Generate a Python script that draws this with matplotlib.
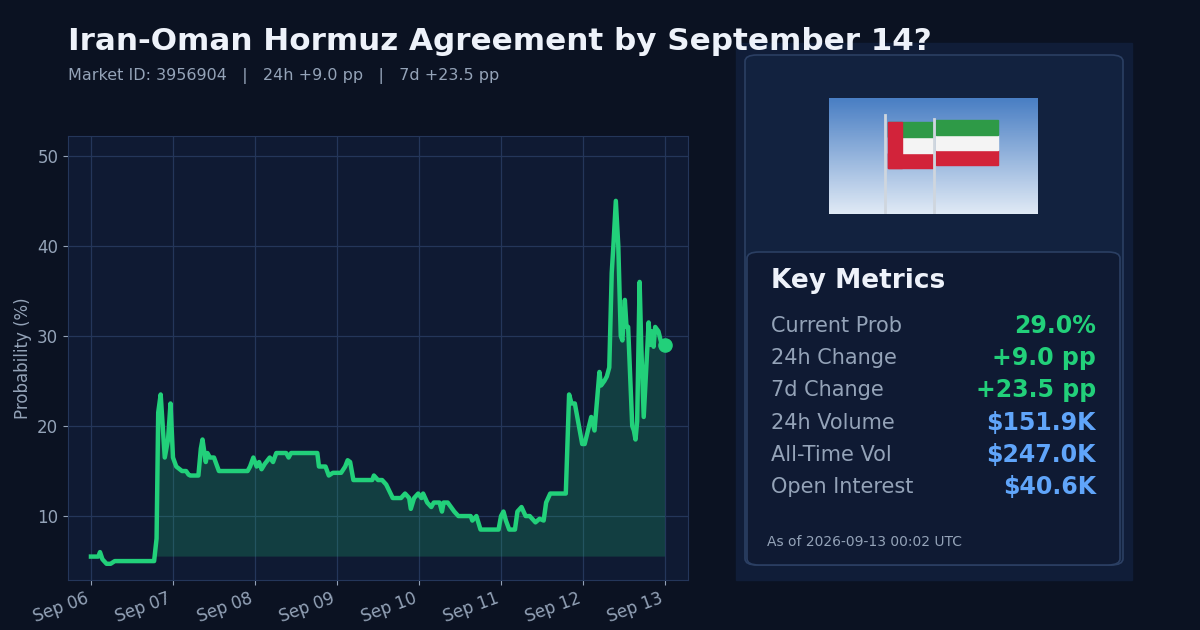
import matplotlib
matplotlib.use("Agg")
import matplotlib.pyplot as plt
import matplotlib.dates as mdates
from matplotlib.patches import FancyBboxPatch, Rectangle
import numpy as np
import datetime as dt

days = [0.0,0.09,0.11,0.14,0.19,0.24,0.29,0.77,0.8,0.82,0.85,0.89,0.9,0.94,0.97,1.0,1.04,1.11,1.16,1.19,1.21,1.31,1.34,1.36,1.4,1.42,1.45,1.5,1.56,1.61,1.91,
        1.94,1.98,2.02,2.05,2.08,2.12,2.18,2.22,2.26,2.38,2.41,2.44,2.76,2.78,2.86,2.9,2.95,3.05,3.1,3.13,3.16,3.2,3.43,3.45,3.5,3.55,3.6,3.68,3.78,3.83,3.88,3.9,3.94,3.99,4.03,4.05,4.1,4.15,4.18,4.25,4.28,4.3,4.35,4.43,4.48,4.63,4.65,4.7,4.75,
        4.97,5.0,5.03,5.06,5.1,5.17,5.2,5.25,5.3,5.35,5.42,5.47,5.52,5.55,5.6,5.79,5.83,5.86,5.9,5.93,5.96,5.99,6.02,6.06,6.1,6.14,6.2,6.22,6.26,6.29,6.32,6.35,6.37,6.4,6.43,6.46,6.48,6.51,6.53,6.55,6.6,6.62,6.64,6.66,6.69,6.71,6.74,6.8,6.82,6.84,6.86,6.88,6.92,6.96,7.0]
prob = [5.5,5.5,6.0,5.2,4.7,4.7,5.0,5.0,7.5,21.5,23.5,18.0,16.5,18.5,22.5,16.5,15.5,15.0,15.0,14.6,14.5,14.5,17.5,18.5,16.0,17.0,16.5,16.5,15.0,15.0,15.0,
        15.5,16.5,15.5,16.0,15.2,15.8,16.5,16.0,17.0,17.0,16.5,17.0,17.0,15.5,15.5,14.5,14.8,14.8,15.5,16.2,16.0,14.0,14.0,14.5,14.0,14.0,13.5,12.0,12.0,12.5,12.0,10.8,12.0,12.5,12.0,12.5,11.5,11.0,11.5,11.5,10.5,11.5,11.5,10.5,10.0,10.0,9.5,10.0,8.5,
        8.5,10.0,10.5,9.5,8.5,8.5,10.5,11.0,10.0,10.0,9.3,9.7,9.5,11.5,12.5,12.5,23.5,22.5,22.5,21.0,19.5,18.0,18.0,19.5,21.0,19.5,26.0,24.5,25.0,25.5,26.5,37.0,40.0,45.0,40.0,30.0,29.5,34.0,31.0,31.0,20.0,19.5,18.5,20.5,36.0,29.0,21.0,31.5,29.0,30.5,28.8,31.0,30.5,29.0,29.0]

metric_labels = ["Current Prob","24h Change","7d Change","24h Volume","All-Time Vol","Open Interest"]
metric_values = ["29.0%","+9.0 pp","+23.5 pp","$151.9K","$247.0K","$40.6K"]
metric_colors = ["#22d07a"]*3 + ["#60a5fa"]*3

BG="#0b1222"; AX="#0f1a33"; GREEN="#22d07a"; GRID="#24365a"; GRAY="#94a3b8"; WHITE="#eef2fa"

t0 = dt.datetime(2026,9,6)
x = [t0 + dt.timedelta(days=d) for d in days]
y = np.array(prob)

fig = plt.figure(figsize=(12,6.3), dpi=100, facecolor=BG)
ax = fig.add_axes([68/1200, 1-580/630, (688-68)/1200, (580-136)/630])
ax.set_facecolor(AX)
ax.set_axisbelow(True)
ax.plot(x, y, color=GREEN, lw=3.2, zorder=3)
ax.fill_between(x, y, prob[0], where=y>=prob[0], color=GREEN, alpha=0.2, lw=0, zorder=2, interpolate=True)
ax.scatter([x[-1]], [y[-1]], s=90, color=GREEN, zorder=4)
ax.set_ylim(2.9, 52.2)
ax.set_xlim(t0 - dt.timedelta(days=0.28), t0 + dt.timedelta(days=7.28))
ax.set_yticks([10,20,30,40,50])
ax.xaxis.set_major_locator(mdates.DayLocator())
ax.xaxis.set_major_formatter(mdates.DateFormatter("%b %d"))
ax.grid(True, color=GRID, lw=0.9, zorder=0)
for s in ax.spines.values(): s.set_color(GRID)
ax.tick_params(colors=GRAY, labelsize=12)
plt.setp(ax.get_xticklabels(), rotation=20, ha="right")
ax.set_ylabel("Probability (%)", color=GRAY, fontsize=12)

fig.text(68/1200, 1-42/630, "Iran-Oman Hormuz Agreement by September 14?", color=WHITE, fontsize=22.3, fontweight="bold", va="center")
fig.text(68/1200, 1-76/630, "Market ID: 3956904   |   24h +9.0 pp   |   7d +23.5 pp", color=GRAY, fontsize=11.5, va="center")

def fx(px): return px/1200
def fy(py): return 1-py/630
fig.patches.append(Rectangle((fx(736), fy(580)), fx(1132-736), (580-43)/630, transform=fig.transFigure, color="#101d38", zorder=0))
fig.patches.append(FancyBboxPatch((fx(745), fy(565)), fx(1123-745), (565-55)/630, boxstyle="round,pad=0,rounding_size=0.01",
                   transform=fig.transFigure, fc="#12223f", ec="#2b3f63", lw=1.2))
fig.patches.append(FancyBboxPatch((fx(747), fy(565)), fx(1120-747), (565-252)/630, boxstyle="round,pad=0,rounding_size=0.01",
                   transform=fig.transFigure, fc="#0f1a33", ec="#2b3f63", lw=1.2))
# flag picture
fl = fig.add_axes([fx(829), fy(214), fx(1038-829), (214-98)/630])
fl.set_zorder(5)
fl.set_xlim(0,1); fl.set_ylim(0,1); fl.axis("off")
grad = np.linspace(0,1,50).reshape(-1,1)
fl.imshow(grad, extent=[0,1,0,1], cmap=matplotlib.colors.LinearSegmentedColormap.from_list("s",["#dfe9f5","#4a7fc4"]), aspect="auto", origin="lower")
fl.plot([0.27,0.27],[0,0.85], color="#cfd6de", lw=2)
fl.plot([0.5,0.5],[0,0.82], color="#cfd6de", lw=2)
for i,c in enumerate(["#2e9a47","#f4f4f4","#d2233a"][::-1]):
    fl.add_patch(Rectangle((0.28,0.4+i*0.13),0.22,0.13,color=c))
fl.add_patch(Rectangle((0.28,0.4),0.07,0.39,color="#d2233a"))
for i,c in enumerate(["#d2233a","#f4f4f4","#2e9a47"]):
    fl.add_patch(Rectangle((0.51,0.42+i*0.13),0.3,0.13,color=c))

fig.text(fx(771), fy(281), "Key Metrics", color=WHITE, fontsize=19, fontweight="bold", va="center")
for i,(l,v,c) in enumerate(zip(metric_labels, metric_values, metric_colors)):
    yy = fy(326 + i*32.2)
    fig.text(fx(771), yy, l, color=GRAY, fontsize=15, va="center")
    fig.text(fx(1096), yy, v, color=c, fontsize=17, fontweight="bold", va="center", ha="right")
fig.text(fx(767), fy(542), "As of 2026-09-13 00:02 UTC", color=GRAY, fontsize=10, va="center")

fig.savefig("out.png", dpi=100, facecolor=BG)
